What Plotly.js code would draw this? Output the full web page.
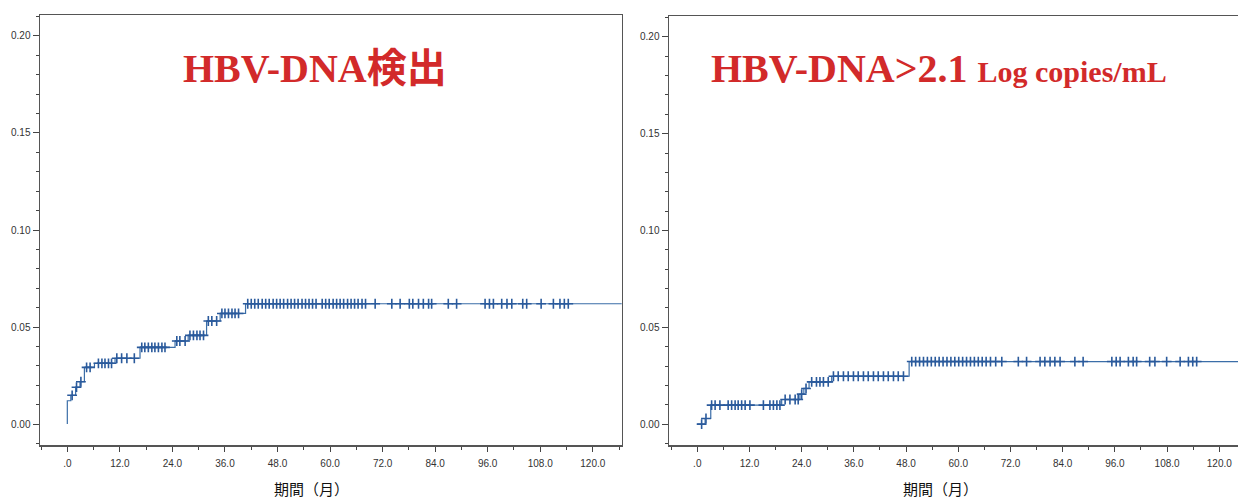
<!DOCTYPE html>
<html>
<head>
<meta charset="utf-8">
<script src="https://cdn.plot.ly/plotly-3.0.1.min.js"></script>
<style>
html,body{margin:0;padding:0;background:#fff;}
#chart{width:1238px;height:501px;}
</style>
</head>
<body>
<div id="chart"></div>
<script>
// ---- data (months, cumulative incidence) ----
const xTickVals = [0, 12, 24, 36, 48, 60, 72, 84, 96, 108, 120];
const xTickText = [".0", "12.0", "24.0", "36.0", "48.0", "60.0", "72.0", "84.0", "96.0", "108.0", "120.0"];
const yTickVals = [0, 0.05, 0.10, 0.15, 0.20];
const yTickText = ["0.00", "0.05", "0.10", "0.15", "0.20"];

// Left: HBV-DNA検出
const leftStepT = [0, 0.8, 1.9, 2.9, 3.9, 6.2, 10.9, 16.6, 24.6, 27.6, 31.8, 34.9, 40.7];
const leftStepY = [0.012, 0.0148, 0.019, 0.0218, 0.0292, 0.0313, 0.0339, 0.0395, 0.0428, 0.0457, 0.0531, 0.057, 0.062];
const leftEnd = 127;
const leftCensor = [1.1, 2.1, 3.1, 4.4, 5.2, 7.1, 7.9, 8.6, 9.4, 10.1, 11.3, 12.4, 13.6, 15.3,
  17.0, 17.7, 18.5, 19.3, 20.0, 20.8, 21.6, 22.3, 25.0, 25.7, 26.9, 28.0, 28.8, 29.6, 30.3, 31.1,
  32.2, 33.0, 34.1, 35.3, 36.0, 36.8, 37.6, 38.3, 39.1,
  41.2, 42.0, 42.8, 43.6, 44.5, 45.3, 46.1, 47.0, 47.8, 48.6, 49.4, 50.3, 51.1, 51.9, 52.7, 53.6,
  54.4, 55.2, 56.0, 56.8, 58.2, 59.0, 59.8, 60.7, 61.5, 62.3, 63.1, 64.0, 64.8, 65.6, 66.4, 67.3, 68.1,
  70.3, 74.1, 76.0, 78.1, 78.9, 80.2, 81.3, 82.5, 83.2, 87.0, 88.9, 95.4, 96.4, 97.3, 99.2, 100.4, 101.5,
  104.0, 104.9, 108.2, 111.0, 112.5, 113.5, 114.4];

// Right: HBV-DNA>2.1 Log copies/mL
const rightStepT = [1.8, 3.1, 19.4, 23.6, 24.5, 25.7, 30.9, 48.7];
const rightStepY = [0.0029, 0.0098, 0.0127, 0.0155, 0.0184, 0.0218, 0.0247, 0.0323];
const rightEnd = 126;
const rightCensor = [1.0, 2.0, 3.3, 4.1, 5.2, 7.1, 7.9, 8.7, 9.4, 10.2, 11.0, 12.1, 15.2, 16.7, 17.5, 18.3, 19.0,
  20.2, 21.3, 22.5, 23.2, 24.0, 25.0, 26.3, 27.4, 28.2, 29.0, 30.1,
  31.3, 32.4, 33.6, 34.7, 35.9, 37.0, 38.2, 39.3, 40.5, 41.6, 42.8, 43.9, 45.1, 46.2, 47.4,
  49.3, 50.2, 51.1, 52.0, 52.9, 53.8, 54.7, 55.6, 56.5, 57.4, 58.3, 59.2, 60.1, 61.0, 61.9, 62.8,
  63.7, 64.6, 65.5, 66.4, 67.4, 68.6, 70.0, 73.8, 75.7, 78.8, 79.9, 81.1, 82.2, 83.4, 86.8, 88.7,
  95.3, 96.3, 97.2, 99.1, 100.2, 101.0, 104.0, 105.2, 107.9, 111.0, 112.9, 113.9, 114.8];

// ---- helpers ----
function stepLine(T, Y, end) {
  const x = [0], y = [0];
  for (let i = 0; i < T.length; i++) { x.push(T[i]); y.push(Y[i]); }
  x.push(end); y.push(Y[Y.length - 1]);
  return {x, y};
}
function valAt(t, T, Y) {
  let v = 0;
  for (let i = 0; i < T.length; i++) if (T[i] <= t) v = Y[i];
  return v;
}
const W = 1238, H = 501;
const px = v => v / W, py = v => 1 - v / H;

const lineColor = '#3b6ea8';
const markColor = '#2a5a9c';

const L = stepLine(leftStepT, leftStepY, leftEnd);
const R = stepLine(rightStepT, rightStepY, rightEnd);

const markerStyle = {symbol: 'cross-thin-open', size: 7, color: markColor, line: {color: markColor, width: 1.6}};

const traces = [
  {x: L.x, y: L.y, mode: 'lines', line: {shape: 'hv', color: lineColor, width: 1.2}, xaxis: 'x', yaxis: 'y', hoverinfo: 'skip'},
  {x: leftCensor, y: leftCensor.map(t => valAt(t, leftStepT, leftStepY)), mode: 'markers',
   marker: markerStyle, xaxis: 'x', yaxis: 'y', hoverinfo: 'skip'},
  {x: R.x, y: R.y, mode: 'lines', line: {shape: 'hv', color: lineColor, width: 1.2}, xaxis: 'x2', yaxis: 'y2', hoverinfo: 'skip'},
  {x: rightCensor, y: rightCensor.map(t => valAt(t, rightStepT, rightStepY)), mode: 'markers',
   marker: markerStyle, xaxis: 'x2', yaxis: 'y2', hoverinfo: 'skip'}
];

const tickFont = {family: 'Liberation Sans, Arial, sans-serif', size: 10, color: '#333'};
const frameColor = '#555';

function xAxis(domain, range, anchor) {
  return {
    domain, range, anchor, tickmode: 'array', tickvals: xTickVals, ticktext: xTickText,
    ticks: 'outside', ticklen: 5, tickwidth: 1, tickcolor: '#444',
    minor: {tickmode: 'linear', tick0: 0, dtick: 6, ticks: 'outside', ticklen: 3, tickcolor: '#444', showgrid: false},
    showline: true, linecolor: frameColor, linewidth: 1.5, mirror: true,
    showgrid: false, zeroline: false, tickfont: tickFont, ticklabelstandoff: 3
  };
}
function yAxis(domain, anchor, mirror) {
  return {
    domain, range: [-0.0108, 0.2108], anchor, tickmode: 'array', tickvals: yTickVals, ticktext: yTickText,
    ticks: 'outside', ticklen: 6, tickwidth: 1, tickcolor: '#444',
    minor: {tickmode: 'linear', tick0: 0, dtick: 0.01, ticks: 'outside', ticklen: 3, tickcolor: '#444', showgrid: false},
    showline: true, linecolor: frameColor, linewidth: 1.5, mirror,
    showgrid: false, zeroline: false, tickfont: tickFont
  };
}

const titleFont = {family: 'Liberation Serif, Noto Sans CJK JP, serif', size: 40, color: '#d22a2a'};
const axisTitleFont = {family: 'Noto Sans CJK JP, sans-serif', size: 15, color: '#111'};

const layout = {
  width: W, height: H,
  margin: {l: 0, r: 0, t: 0, b: 0},
  paper_bgcolor: '#fff', plot_bgcolor: '#fff',
  showlegend: false,
  xaxis: xAxis([px(40), px(621.7)], [-6.24, 126.6], 'y'),
  yaxis: yAxis([1 - 445 / H, 1 - 15 / H], 'x', true),
  xaxis2: xAxis([px(669), 1], [-6.5, 124.3], 'y2'),
  yaxis2: yAxis([1 - 445 / H, 1 - 16 / H], 'x2', false),
  annotations: [
    {xref: 'paper', yref: 'paper', x: px(181), y: py(69), xanchor: 'left', yanchor: 'middle', showarrow: false,
     text: '<b>HBV-DNA検出</b>', font: titleFont},
    {xref: 'paper', yref: 'paper', x: px(709), y: py(69), xanchor: 'left', yanchor: 'middle', showarrow: false,
     text: '<b>HBV-DNA&gt;2.1 <span style="font-size:30px">Log copies/mL</span></b>', font: titleFont},
    {xref: 'paper', yref: 'paper', x: px(311), y: py(488), xanchor: 'center', yanchor: 'middle', showarrow: false,
     text: '期間（月）', font: axisTitleFont},
    {xref: 'paper', yref: 'paper', x: px(940), y: py(488), xanchor: 'center', yanchor: 'middle', showarrow: false,
     text: '期間（月）', font: axisTitleFont}
  ]
};

Plotly.newPlot('chart', traces, layout, {staticPlot: true, displayModeBar: false});
</script>
</body>
</html>
